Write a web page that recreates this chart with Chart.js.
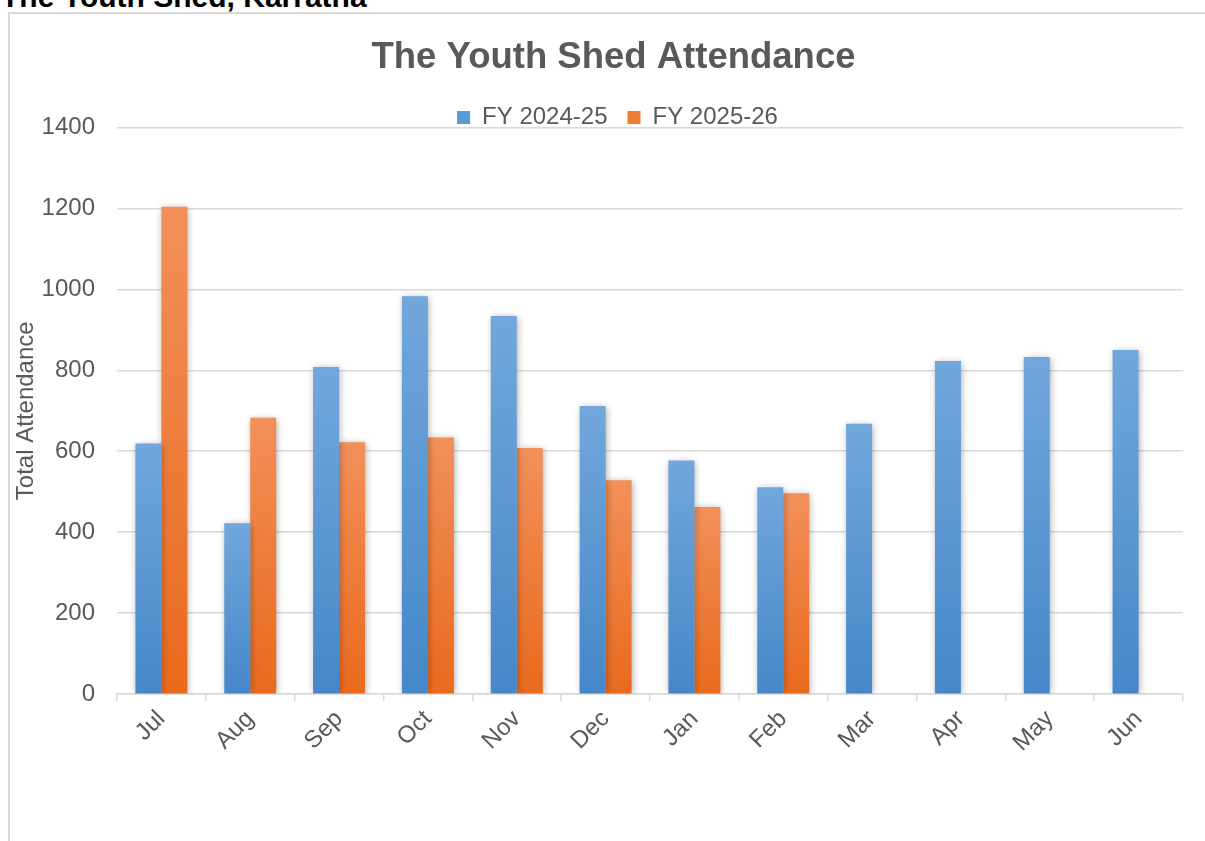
<!DOCTYPE html>
<html>
<head>
<meta charset="utf-8">
<title>The Youth Shed Attendance</title>
<script src="https://cdn.jsdelivr.net/npm/chart.js@4.4.1/dist/chart.umd.min.js"></script>
<style>
    html, body { margin: 0; padding: 0; background: #fff; overflow: hidden; }
    body { width: 1205px; height: 841px; position: relative; font-family: "Liberation Sans", Arial, sans-serif; }
    .page-title { position: absolute; left: 1px; top: -18px; margin: 0; font-size: 30px; line-height: 30px; font-weight: bold; color: #000; white-space: nowrap; }
    .frame { position: absolute; left: 8px; top: 12px; width: 1230px; height: 870px; border: 2px solid #d9d9d9; }
    #attendance_chart { position: absolute; left: 10px; top: 14px; }
</style>
</head>
<body>
<h1 class="page-title">The Youth Shed, Karratha</h1>
<div class="frame"></div>
<canvas id="attendance_chart" width="1195" height="827"></canvas>
<script>
const months = ['Jul', 'Aug', 'Sep', 'Oct', 'Nov', 'Dec', 'Jan', 'Feb', 'Mar', 'Apr', 'May', 'Jun'];
const seriesNames = ['FY 2024-25', 'FY 2025-26'];

// attendance per month
const fy2425 = [619, 422, 808, 983, 934, 712, 577, 511, 668, 823, 833, 850];
const fy2526 = [1204, 683, 622, 634, 608, 528, 462, 496, null, null, null, null];

const yMin = 0;
const yMax = 1400;
const yStep = 200;

const FONT = '"Liberation Sans", Arial, sans-serif';
const TEXT_GREY = '#595959';
const GRID_GREY = '#d9d9d9';

// top / bottom of each bar's gradient, plus a flat colour for the legend
const blue = { top: '#72a7dc', bottom: '#4587c9', solid: '#5b9bd5' };
const orange = { top: '#f2905a', bottom: '#e96a1d', solid: '#ed7d31' };

// each bar gets its own vertical gradient, like the Excel original
function barFill(colors) {
    return (context) => {
        const chart = context.chart;
        if (context.type !== 'data' || !chart.chartArea || !context.parsed) {
            return colors.solid;
        }
        const yScale = chart.scales.y;
        const y0 = yScale.getPixelForValue(0);
        const y1 = yScale.getPixelForValue(context.parsed.y);
        if (!isFinite(y1) || y0 === y1) {
            return colors.solid;
        }
        const g = chart.ctx.createLinearGradient(0, y1, 0, y0);
        g.addColorStop(0, colors.top);
        g.addColorStop(1, colors.bottom);
        return g;
    };
}

// soft drop shadow behind the bars
const barShadow = {
    id: 'barShadow',
    beforeDatasetsDraw(chart) {
        const c = chart.ctx;
        c.save();
        c.shadowColor = 'rgba(0, 0, 0, 0.35)';
        c.shadowBlur = 7;
        c.shadowOffsetX = 1;
        c.shadowOffsetY = 1;
    },
    afterDatasetsDraw(chart) {
        chart.ctx.restore();
    }
};

// title and legend sit a little off from where chart.js puts them
const headerNudge = {
    id: 'headerNudge',
    afterLayout(chart) {
        const lg = chart.legend;
        lg.top += 12;
        lg.bottom += 12;
        lg.left += 21;
        lg.right += 21;
        const tb = chart.titleBlock;
        tb.left += 17;
        tb.right += 17;
    }
};

Chart.defaults.font.family = FONT;

const legendColors = [blue.solid, orange.solid];

const ctx = document.getElementById('attendance_chart').getContext('2d');
const attendanceChart = new Chart(ctx, {
    type: 'bar',
    data: {
        labels: months,
        datasets: [
            {
                label: seriesNames[0],
                data: fy2425,
                backgroundColor: barFill(blue),
                borderWidth: 0,
                categoryPercentage: 0.585,
                barPercentage: 1.0
            },
            {
                label: seriesNames[1],
                data: fy2526,
                backgroundColor: barFill(orange),
                borderWidth: 0,
                categoryPercentage: 0.585,
                barPercentage: 1.0
            }
        ]
    },
    options: {
        responsive: false,
        animation: false,
        devicePixelRatio: 1,
        layout: {
            padding: { left: 0, right: 22, top: 0, bottom: 0 }
        },
        plugins: {
            title: {
                display: true,
                text: 'The Youth Shed Attendance',
                color: TEXT_GREY,
                font: { size: 36.5, weight: 'bold', lineHeight: 1 },
                padding: { top: 26, bottom: -3 }
            },
            legend: {
                position: 'top',
                labels: {
                    color: TEXT_GREY,
                    font: { size: 24 },
                    boxWidth: 13,
                    boxHeight: 13,
                    padding: 20,
                    generateLabels: (chart) =>
                        Chart.defaults.plugins.legend.labels.generateLabels(chart).map((item, i) => ({
                            ...item,
                            fillStyle: legendColors[i],
                            strokeStyle: legendColors[i],
                            lineWidth: 0
                        }))
                }
            },
            tooltip: { enabled: false }
        },
        scales: {
            x: {
                grid: {
                    display: true,
                    drawOnChartArea: false,
                    drawTicks: true,
                    tickLength: 7,
                    color: GRID_GREY,
                    lineWidth: 1.5,
                    offset: true
                },
                border: { display: true, color: GRID_GREY, width: 1.5 },
                ticks: {
                    color: TEXT_GREY,
                    font: { size: 24 },
                    minRotation: 45,
                    maxRotation: 45,
                    autoSkip: false,
                    padding: 4
                },
                afterFit(scale) {
                    scale.height = 147;
                }
            },
            y: {
                min: yMin,
                max: yMax,
                ticks: {
                    stepSize: yStep,
                    color: TEXT_GREY,
                    font: { size: 24 },
                    padding: 22,
                    callback: (value) => String(value)
                },
                grid: {
                    color: GRID_GREY,
                    lineWidth: 1.5,
                    drawTicks: false
                },
                border: { display: false },
                title: {
                    display: true,
                    text: 'Total Attendance',
                    color: TEXT_GREY,
                    font: { size: 24 },
                    padding: { top: 2, bottom: 0 }
                },
                afterFit(scale) {
                    scale.width = 107;
                }
            }
        }
    },
    plugins: [barShadow, headerNudge]
});
</script>
</body>
</html>
